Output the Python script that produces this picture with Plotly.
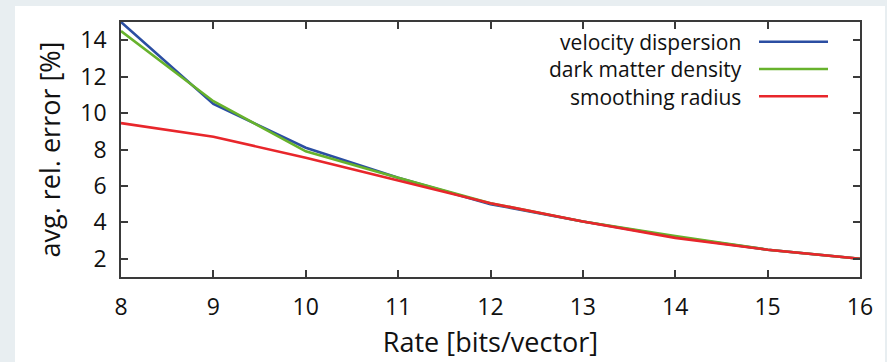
import plotly.graph_objects as go

rate = [8, 9, 10, 11, 12, 13, 14, 15, 16]
velocity_dispersion = [15.0, 10.5, 8.1, 6.45, 5.0, 4.05, 3.2, 2.5, 2.0]
dark_matter_density = [14.5, 10.65, 7.9, 6.45, 5.05, 4.05, 3.25, 2.5, 2.0]
smoothing_radius = [9.45, 8.7, 7.55, 6.3, 5.05, 4.05, 3.15, 2.5, 2.0]

series_names = ["velocity dispersion", "dark matter density", "smoothing radius"]
series_values = [velocity_dispersion, dark_matter_density, smoothing_radius]
series_colors = ["#2b4ea2", "#67b22c", "#e8262b"]

x_ticks = [8, 9, 10, 11, 12, 13, 14, 15, 16]
y_ticks = [2, 4, 6, 8, 10, 12, 14]

FONT = "Open Sans"
AXIS_COLOR = "#3a3a3a"
TEXT_COLOR = "#111111"
LEG_FONT = 21

fig = go.Figure()
for name, vals, col in zip(series_names, series_values, series_colors):
    fig.add_trace(go.Scatter(x=rate, y=vals, mode="lines", name=name,
                             line=dict(color=col, width=2.6), showlegend=False))

# white card behind the chart
fig.add_shape(type="rect", xref="paper", yref="paper",
              x0=-0.1434, x1=1.0338, y0=-0.34, y1=1.0627,
              fillcolor="white", line=dict(width=0), layer="below")

# legend: right-aligned text block with line samples on the right
line_gap = LEG_FONT * 1.3
mid_py = 69
fig.add_annotation(xref="paper", yref="paper", x=(743 - 121) / 739, y=(277 - mid_py) / 255,
                   text="<br>".join(series_names), showarrow=False, align="right",
                   xanchor="right", yanchor="middle", borderpad=0,
                   font=dict(family=FONT, size=LEG_FONT, color=TEXT_COLOR))
for i, col in enumerate(series_colors):
    py = mid_py + (i - 1) * line_gap
    yp = (277 - py) / 255
    fig.add_shape(type="line", xref="paper", yref="paper",
                  x0=(759 - 121) / 739, x1=(828 - 121) / 739, y0=yp, y1=yp,
                  line=dict(color=col, width=2.6))

axis_common = dict(showline=True, linecolor=AXIS_COLOR, linewidth=1.5, mirror="ticks",
                   ticks="inside", ticklen=7, tickwidth=1.5, tickcolor=AXIS_COLOR,
                   showgrid=False, zeroline=False, automargin=False,
                   tickfont=dict(family=FONT, size=23, color=TEXT_COLOR))

fig.update_layout(
    width=887, height=362,
    margin=dict(l=121, r=27, t=22, b=85, autoexpand=False),
    paper_bgcolor="#e8eef1",
    plot_bgcolor="white",
    showlegend=False,
    xaxis=dict(range=[8, 16], tickvals=x_ticks, ticktext=[str(v) for v in x_ticks],
               ticklabelstandoff=9,
               title=dict(text="Rate [bits/vector]", standoff=12,
                          font=dict(family=FONT, size=27, color=TEXT_COLOR)),
               **axis_common),
    yaxis=dict(range=[1, 15], tickvals=y_ticks, ticktext=[str(v) for v in y_ticks],
               ticklabelstandoff=8,
               title=dict(text="avg. rel. error [%]", standoff=12,
                          font=dict(family=FONT, size=27, color=TEXT_COLOR)),
               **axis_common),
)

fig.write_html("out.html")
